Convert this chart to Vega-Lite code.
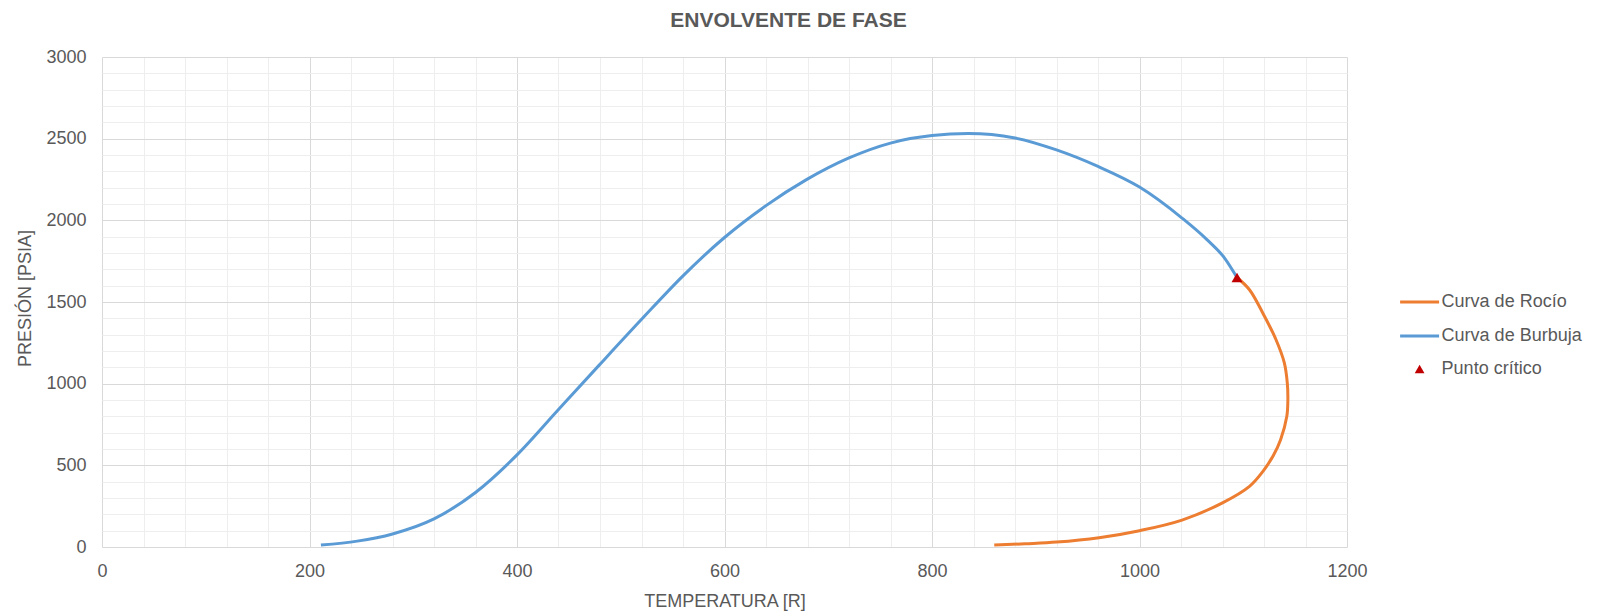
{
  "$schema": "https://vega.github.io/schema/vega-lite/v6.json",
  "width": 1245,
  "height": 490,
  "autosize": "none",
  "padding": {"left": 102, "top": 57, "right": 267, "bottom": 69},
  "background": "white",
  "config": {"view": {"stroke": null}, "font": "Liberation Sans"},
  "title": {
    "text": "ENVOLVENTE DE FASE",
    "fontSize": 21,
    "fontWeight": "bold",
    "color": "#595959",
    "font": "Liberation Sans",
    "anchor": "middle",
    "frame": "group",
    "baseline": "alphabetic",
    "offset": 0,
    "dx": 64
  },
  "data": {
    "values": [
      {"serie": "Curva de Burbuja", "i": 1, "T": 211, "P": 12},
      {"serie": "Curva de Burbuja", "i": 2, "T": 246, "P": 36},
      {"serie": "Curva de Burbuja", "i": 3, "T": 280, "P": 80},
      {"serie": "Curva de Burbuja", "i": 4, "T": 320, "P": 172},
      {"serie": "Curva de Burbuja", "i": 5, "T": 360, "P": 334},
      {"serie": "Curva de Burbuja", "i": 6, "T": 400, "P": 564},
      {"serie": "Curva de Burbuja", "i": 7, "T": 440, "P": 842},
      {"serie": "Curva de Burbuja", "i": 8, "T": 479, "P": 1112},
      {"serie": "Curva de Burbuja", "i": 9, "T": 521, "P": 1400},
      {"serie": "Curva de Burbuja", "i": 10, "T": 560, "P": 1660},
      {"serie": "Curva de Burbuja", "i": 11, "T": 600, "P": 1895},
      {"serie": "Curva de Burbuja", "i": 12, "T": 640, "P": 2090},
      {"serie": "Curva de Burbuja", "i": 13, "T": 679, "P": 2249},
      {"serie": "Curva de Burbuja", "i": 14, "T": 720, "P": 2382},
      {"serie": "Curva de Burbuja", "i": 15, "T": 760, "P": 2473},
      {"serie": "Curva de Burbuja", "i": 16, "T": 800, "P": 2519},
      {"serie": "Curva de Burbuja", "i": 17, "T": 835, "P": 2531},
      {"serie": "Curva de Burbuja", "i": 18, "T": 880, "P": 2504},
      {"serie": "Curva de Burbuja", "i": 19, "T": 920, "P": 2431},
      {"serie": "Curva de Burbuja", "i": 20, "T": 960, "P": 2330},
      {"serie": "Curva de Burbuja", "i": 21, "T": 1000, "P": 2204},
      {"serie": "Curva de Burbuja", "i": 22, "T": 1041, "P": 2014},
      {"serie": "Curva de Burbuja", "i": 23, "T": 1065, "P": 1882},
      {"serie": "Curva de Burbuja", "i": 24, "T": 1082, "P": 1769},
      {"serie": "Curva de Burbuja", "i": 25, "T": 1094, "P": 1650},
      {"serie": "Curva de Rocío", "i": 1, "T": 860, "P": 12},
      {"serie": "Curva de Rocío", "i": 2, "T": 890, "P": 20},
      {"serie": "Curva de Rocío", "i": 3, "T": 920, "P": 30},
      {"serie": "Curva de Rocío", "i": 4, "T": 961, "P": 57},
      {"serie": "Curva de Rocío", "i": 5, "T": 1000, "P": 100},
      {"serie": "Curva de Rocío", "i": 6, "T": 1041, "P": 165},
      {"serie": "Curva de Rocío", "i": 7, "T": 1080, "P": 270},
      {"serie": "Curva de Rocío", "i": 8, "T": 1106, "P": 371},
      {"serie": "Curva de Rocío", "i": 9, "T": 1119, "P": 463},
      {"serie": "Curva de Rocío", "i": 10, "T": 1129, "P": 560},
      {"serie": "Curva de Rocío", "i": 11, "T": 1136, "P": 657},
      {"serie": "Curva de Rocío", "i": 12, "T": 1142, "P": 800},
      {"serie": "Curva de Rocío", "i": 13, "T": 1143, "P": 900},
      {"serie": "Curva de Rocío", "i": 14, "T": 1142.5, "P": 1000},
      {"serie": "Curva de Rocío", "i": 15, "T": 1139.6, "P": 1127},
      {"serie": "Curva de Rocío", "i": 16, "T": 1131.6, "P": 1269},
      {"serie": "Curva de Rocío", "i": 17, "T": 1118.8, "P": 1433},
      {"serie": "Curva de Rocío", "i": 18, "T": 1106, "P": 1575},
      {"serie": "Curva de Rocío", "i": 19, "T": 1094, "P": 1650},
      {"serie": "Punto crítico", "i": 1, "T": 1094, "P": 1650}
    ]
  },
  "encoding": {
    "x": {
      "field": "T",
      "type": "quantitative",
      "scale": {"domain": [0, 1200], "nice": false, "zero": false},
      "axis": {
        "values": [0,40,80,120,160,200,240,280,320,360,400,440,480,520,560,600,640,680,720,760,800,840,880,920,960,1000,1040,1080,1120,1160,1200],
        "gridColor": {"condition": {"test": "datum.value % 200 === 0", "value": "#D9D9D9"}, "value": "#EEEEEE"},
        "labelExpr": "datum.value % 200 === 0 ? datum.label : ''",
        "labelFontSize": 18,
        "labelColor": "#595959",
        "labelPadding": 15,
        "labelOverlap": false,
        "labelFlush": false,
        "labelBound": false,
        "ticks": false,
        "tickSize": 0,
        "domain": false,
        "format": "d",
        "title": "TEMPERATURA  [R]",
        "titleFontSize": 18,
        "titleFontWeight": "normal",
        "titleColor": "#595959",
        "titleBaseline": "alphabetic",
        "titleY": 59
      }
    },
    "y": {
      "field": "P",
      "type": "quantitative",
      "scale": {"domain": [0, 3000], "nice": false},
      "axis": {
        "values": [0,100,200,300,400,500,600,700,800,900,1000,1100,1200,1300,1400,1500,1600,1700,1800,1900,2000,2100,2200,2300,2400,2500,2600,2700,2800,2900,3000],
        "gridColor": {"condition": {"test": "datum.value % 500 === 0", "value": "#D9D9D9"}, "value": "#EEEEEE"},
        "labelExpr": "datum.value % 500 === 0 ? datum.label : ''",
        "labelFontSize": 18,
        "labelColor": "#595959",
        "labelPadding": 16,
        "labelOverlap": false,
        "labelFlush": false,
        "labelBound": false,
        "ticks": false,
        "tickSize": 0,
        "domain": false,
        "format": "d",
        "title": "PRESIÓN [PSIA]",
        "titleFontSize": 18,
        "titleFontWeight": "normal",
        "titleColor": "#595959",
        "titleAngle": -90,
        "titleBaseline": "middle",
        "titleX": -77,
        "titleY": 241
      }
    },
    "color": {
      "field": "serie",
      "type": "nominal",
      "scale": {"domain": ["Curva de Rocío", "Curva de Burbuja"], "range": ["#ED7D31", "#5B9BD5"]},
      "legend": {
        "orient": "none",
        "legendX": 1308.6,
        "legendY": 236,
        "title": null,
        "padding": 0,
        "symbolType": "M-4,0L4,0",
        "symbolSize": 95,
        "symbolStrokeWidth": 3,
        "labelFontSize": 18,
        "labelColor": "#595959",
        "labelOffset": 13,
        "rowPadding": 16
      }
    }
  },
  "layer": [
    {
      "transform": [{"filter": "datum.serie === 'Curva de Burbuja'"}],
      "mark": {"type": "line", "strokeWidth": 3, "interpolate": "monotone"},
      "encoding": {
        "order": {"field": "i", "type": "quantitative"}
      }
    },
    {
      "transform": [{"filter": "datum.serie === 'Curva de Rocío'"}],
      "mark": {"type": "line", "strokeWidth": 3, "interpolate": "catmull-rom"},
      "encoding": {
        "order": {"field": "i", "type": "quantitative"}
      }
    },
    {
      "transform": [{"filter": "datum.serie === 'Punto crítico'"}],
      "mark": {"type": "point", "filled": true, "color": "#C00000", "opacity": 1, "size": 120},
      "encoding": {
        "color": {"value": "#C00000"},
        "shape": {
          "field": "serie",
          "type": "nominal",
          "scale": {"domain": ["Punto crítico"], "range": ["triangle-up"]},
          "legend": {
            "orient": "none",
            "legendX": 1308.6,
            "legendY": 303,
            "title": null,
            "padding": 0,
            "symbolSize": 95,
            "symbolFillColor": "#C00000",
            "symbolStrokeWidth": 0,
            "labelFontSize": 18,
            "labelColor": "#595959",
            "labelOffset": 13
          }
        }
      }
    }
  ]
}
